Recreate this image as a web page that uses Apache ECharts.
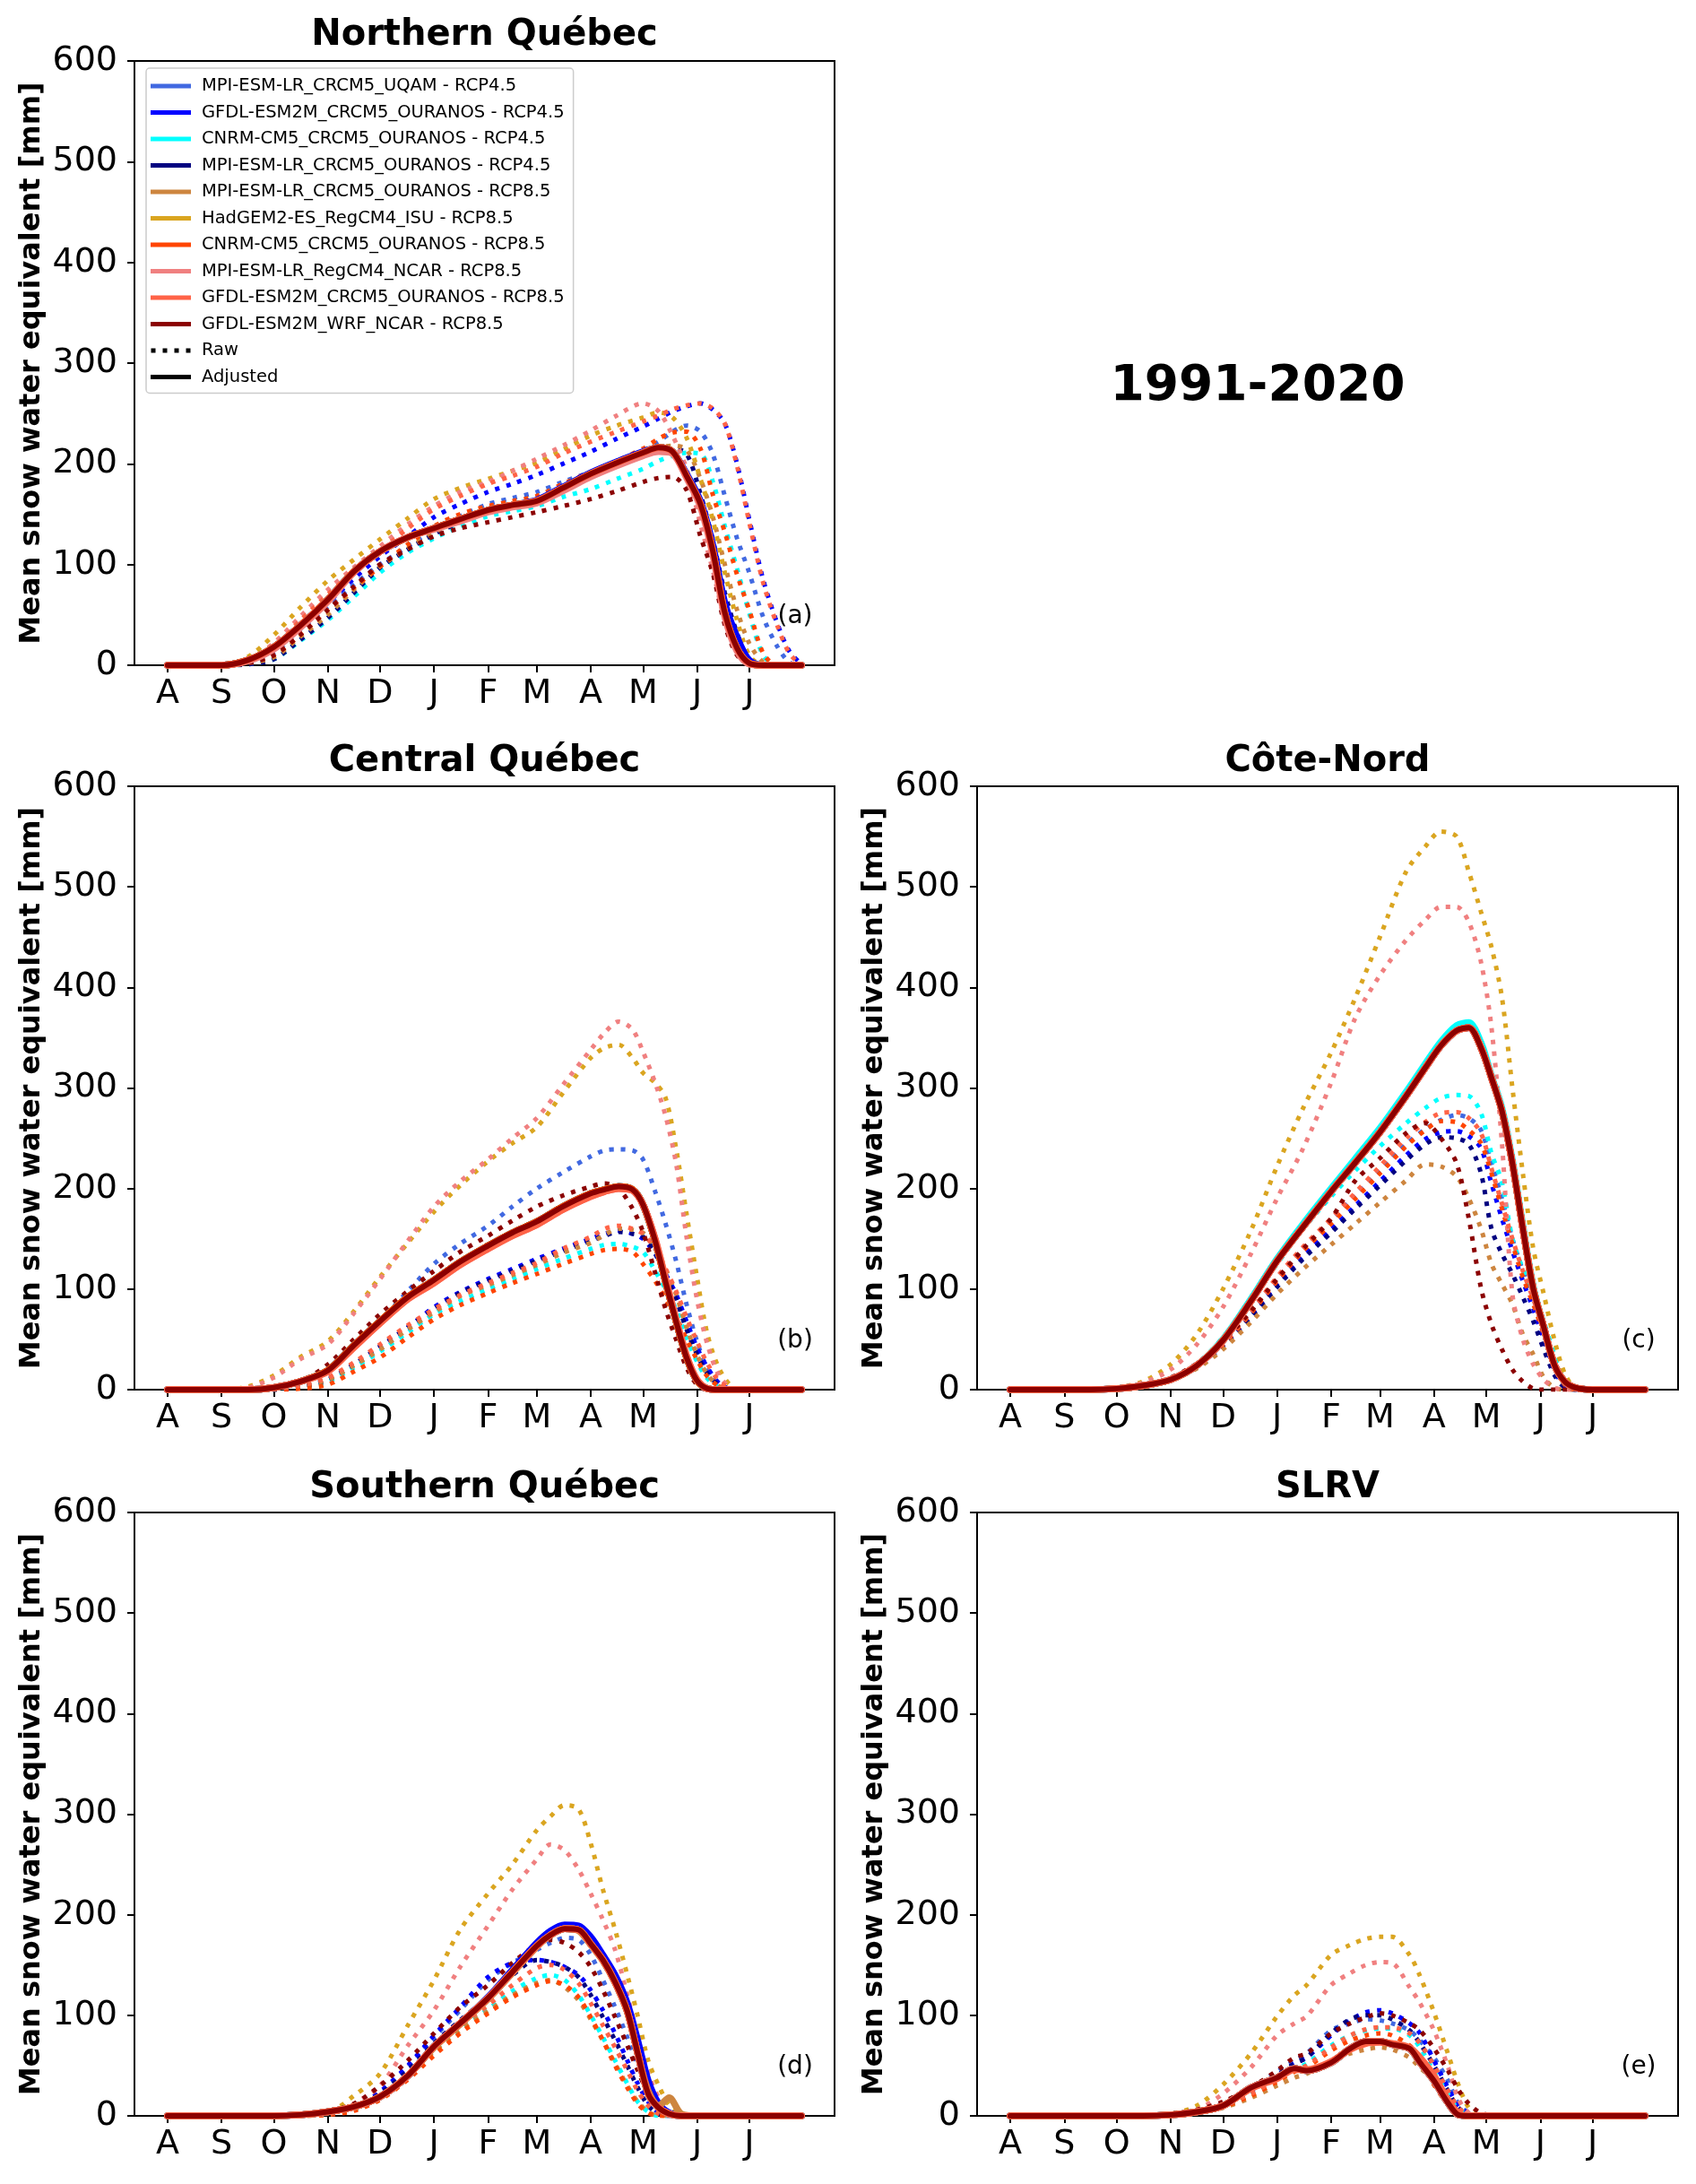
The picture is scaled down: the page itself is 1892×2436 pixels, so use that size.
<!DOCTYPE html>
<html><head><meta charset="utf-8">
<script src="https://cdn.jsdelivr.net/npm/echarts@6/dist/echarts.min.js"></script>
<style>html,body{margin:0;padding:0;background:#fff}#c{width:1892px;height:2436px}</style>
</head><body><div id="c"></div>
<script>
const MODELS = ['MPI-ESM-LR_CRCM5_UQAM - RCP4.5','GFDL-ESM2M_CRCM5_OURANOS - RCP4.5','CNRM-CM5_CRCM5_OURANOS - RCP4.5','MPI-ESM-LR_CRCM5_OURANOS - RCP4.5','MPI-ESM-LR_CRCM5_OURANOS - RCP8.5','HadGEM2-ES_RegCM4_ISU - RCP8.5','CNRM-CM5_CRCM5_OURANOS - RCP8.5','MPI-ESM-LR_RegCM4_NCAR - RCP8.5','GFDL-ESM2M_CRCM5_OURANOS - RCP8.5','GFDL-ESM2M_WRF_NCAR - RCP8.5'];
const COLORS = ['#4169e1','#0000ff','#00ffff','#000080','#cd853f','#daa520','#ff4500','#f08080','#ff6347','#8b0000'];
const MONTH_DAYS = [0,31,61,92,122,153,184,212,243,273,304,334];
const MONTH_LABELS = ['A','S','O','N','D','J','F','M','A','M','J','J'];
const PANEL_TITLES = ['Northern Québec','Central Québec','Côte-Nord','Southern Québec','SLRV'];
const PANEL_TAGS = ['(a)','(b)','(c)','(d)','(e)'];
const PERIOD = '1991-2020';
const Y_NAME = 'Mean snow water equivalent [mm]';

// ---------- Panel (a) Northern Québec ----------
const daysA = [0,31,46,61,76,92,107,122,138,153,168,184,198,212,227,243,258,273,282,290,298,306,313,320,327,334,342,350,357,364];
const rawA_royal = [0,0,3,12,35,58,80,100,118,135,148,160,166,172,182,192,202,213,222,232,238,232,210,168,126,92,48,19,3,0];
const rawA_blue = [0,0,4,15,38,62,86,108,128,147,160,172,180,189,200,212,225,237,245,252,257,260,254,240,200,145,85,42,14,1];
const rawA_cyan = [0,0,1,6,24,45,68,92,112,126,138,148,153,158,167,175,185,195,203,208,211,210,183,138,96,52,10,0,0,0];
const rawA_navy = [0,0,1,6,25,47,72,97,115,130,142,152,158,165,176,188,198,208,213,215,210,170,125,72,32,5,0,0,0,0];
const rawA_peru = [0,0,2,8,28,50,75,98,116,132,144,152,158,166,178,190,200,212,216,218,214,185,148,100,55,22,3,0,0,0];
const rawA_gold = [0,0,8,30,57,84,105,125,146,165,176,185,193,201,214,228,238,246,251,246,226,185,145,92,45,10,0,0,0,0];
const rawA_orangered = [0,0,3,10,30,55,77,98,120,138,150,158,163,168,180,192,203,215,225,231,232,215,170,132,90,55,12,0,0,0];
const rawA_lightcoral = [0,0,5,22,48,75,97,118,140,158,172,182,193,205,218,233,248,260,252,228,195,140,95,45,15,2,0,0,0,0];
const rawA_tomato = [0,0,5,18,44,70,93,113,136,155,168,180,188,197,210,222,232,242,248,254,258,260,255,240,198,142,82,40,12,0];
const rawA_darkred = [0,0,2,10,30,55,78,100,115,128,136,142,147,152,158,165,173,182,186,187,174,128,92,40,10,1,0,0,0,0];
const adjA_main = [0,0,5,18,39,65,93,113,127,136,145,154,159,163,176,190,201,211,216,212,188,160,114,52,17,2,0,0,0,0];
const adjA_blue = [0,0,5,18,39,65,93,113,127,136,145,154,159,164,177,191,202,212,216,212,190,163,120,62,28,5,0,0,0,0];
const adjA_lc = [0,0,4,16,37,63,92,113,127,135,143,152,157,161,173,187,198,208,212,210,186,157,110,48,14,1,0,0,0,0];

// ---------- Panel (b) Central Québec ----------
const daysB = [0,31,46,61,76,92,107,122,138,153,168,184,198,212,227,243,251,259,267,273,280,286,292,298,304,310,317,325,334,364];
const rawB_royal = [0,0,0,1,6,20,42,68,98,125,145,163,182,200,216,232,238,239,238,229,197,165,128,85,48,20,3,0,0,0];
const rawB_blue = [0,0,0,0,3,10,25,42,62,82,97,110,120,130,140,150,155,158,155,150,135,115,95,68,42,22,6,0,0,0];
const rawB_cyan = [0,0,0,0,2,8,22,38,57,75,88,100,110,120,130,140,144,145,142,137,118,100,80,52,28,11,2,0,0,0];
const rawB_navy = [0,0,0,0,3,10,25,43,62,80,96,108,118,128,138,148,153,157,155,152,136,113,90,60,35,16,4,0,0,0];
const rawB_peru = [0,0,0,1,4,10,24,40,60,77,93,104,114,124,136,146,154,160,159,156,142,120,95,62,35,15,3,0,0,0];
const rawB_gold = [0,0,3,14,32,48,78,112,146,177,203,227,245,261,295,330,340,343,330,315,305,290,240,175,112,55,20,2,0,0];
const rawB_orangered = [0,0,0,0,1,5,18,32,52,70,84,96,106,115,125,135,139,140,137,125,108,90,72,50,30,13,3,0,0,0];
const rawB_lightcoral = [0,0,2,12,30,45,76,110,148,182,207,229,250,270,303,338,355,366,358,336,305,272,225,152,90,45,13,1,0,0];
const rawB_tomato = [0,0,0,1,4,12,27,45,64,80,94,106,116,126,140,152,160,163,160,155,140,120,98,72,48,26,8,1,0,0];
const rawB_darkred = [0,0,0,2,8,25,50,75,98,118,137,153,168,182,193,202,205,200,180,157,116,80,50,22,5,0,0,0,0,0];
const adjB_main = [0,0,0,2,8,19,44,68,92,109,127,143,156,167,182,195,199,202,199,184,148,107,68,32,9,1,0,0,0,0];
const adjB_lc = [0,0,0,2,8,18,42,66,90,106,124,140,153,164,179,192,197,200,198,184,150,110,70,34,10,1,0,0,0,0];

// ---------- Panel (c) Côte-Nord ----------
const daysC = [0,31,46,61,76,92,107,122,138,153,168,184,198,212,227,238,247,256,263,270,276,282,288,294,300,306,312,318,324,334,364];
const rawC_royal = [0,0,0,1,3,10,24,46,77,110,140,168,193,218,244,259,268,273,270,258,225,190,150,118,88,58,28,6,0,0,0];
const rawC_blue = [0,0,0,1,3,10,23,44,74,105,133,159,183,207,233,249,256,257,252,240,205,170,138,108,80,50,20,3,0,0,0];
const rawC_cyan = [0,0,0,1,3,10,25,52,88,125,160,192,218,242,265,280,290,293,292,275,235,206,150,120,98,68,35,8,0,0,0];
const rawC_navy = [0,0,0,1,3,9,22,43,72,102,130,156,180,203,228,244,251,250,244,215,160,135,115,92,68,40,15,2,0,0,0];
const rawC_peru = [0,0,0,1,3,9,21,40,67,95,120,144,165,186,208,224,222,212,190,160,125,105,85,55,35,12,2,0,0,0,0];
const rawC_gold = [0,0,0,2,8,25,55,100,158,222,280,335,390,450,515,540,555,550,515,475,440,390,300,215,140,95,50,16,2,0,0];
const rawC_orangered = [0,0,0,1,3,10,24,45,76,108,138,165,190,215,242,258,267,266,258,245,215,180,145,112,85,55,25,5,0,0,0];
const rawC_lightcoral = [0,0,0,2,7,20,45,82,135,190,240,305,370,412,447,467,480,480,465,425,360,245,95,50,25,10,2,0,0,0,0];
const rawC_tomato = [0,0,0,1,3,10,24,46,78,112,142,170,196,222,250,266,275,276,270,255,220,185,150,118,90,60,30,8,0,0,0];
const rawC_darkred = [0,0,0,1,4,12,26,48,78,110,140,170,208,230,255,265,250,225,170,101,65,40,20,8,1,0,0,0,0,0,0];
const adjC_main = [0,0,0,1,4,10,24,49,88,128,162,197,226,256,292,320,342,357,360,340,310,277,225,160,100,62,25,8,2,0,0];
const adjC_cyan = [0,0,0,1,4,10,24,50,90,130,165,200,230,260,296,324,346,362,365,345,312,280,228,163,102,62,25,8,2,0,0];

// ---------- Panel (d) Southern Québec ----------
const daysD = [0,31,61,76,92,107,122,138,153,168,184,198,212,220,228,236,243,250,257,264,270,276,282,288,295,304,334,364];
const rawD_royal = [0,0,0,1,3,8,22,48,78,105,135,152,165,172,177,175,160,135,108,78,50,25,8,1,0,0,0,0];
const rawD_blue = [0,0,0,1,3,8,24,50,80,108,138,152,155,153,148,140,125,105,82,55,32,14,3,0,0,0,0,0];
const rawD_cyan = [0,0,0,0,2,6,18,40,65,87,106,124,137,140,135,120,100,78,55,32,14,4,0,0,0,0,0,0];
const rawD_navy = [0,0,0,1,3,8,22,45,72,95,118,140,155,153,148,138,120,98,75,50,28,10,2,0,0,0,0,0];
const rawD_peru = [0,0,0,0,2,6,18,40,64,85,104,120,132,135,128,115,96,75,52,30,14,4,0,0,0,0,0,0];
const rawD_gold = [0,0,0,1,3,20,42,90,135,185,221,250,284,298,309,305,271,225,185,140,99,55,30,11,1,0,0,0];
const rawD_orangered = [0,0,0,0,1,5,16,36,60,82,102,118,130,134,130,118,98,75,50,28,12,3,0,0,0,0,0,0];
const rawD_lightcoral = [0,0,0,1,2,12,30,70,105,148,189,225,255,270,264,245,221,195,165,120,78,42,18,4,0,0,0,0];
const rawD_tomato = [0,0,0,1,3,8,20,42,68,90,110,130,147,150,145,132,112,90,68,45,25,10,2,0,0,0,0,0];
const rawD_darkred = [0,0,0,2,5,12,30,55,82,108,130,152,170,175,172,163,148,125,98,70,45,22,7,1,0,0,0,0];
const adjD_main = [0,0,0,1,4,9,19,40,69,92,117,143,169,180,186,185,171,155,133,104,62,22,8,2,0,0,0,0];
const adjD_blue = [0,0,0,1,4,9,19,40,69,92,118,145,172,184,190,189,178,160,140,112,75,35,12,3,0,0,0,0];
const adjD_peru = [0,0,0,1,4,9,19,40,68,91,116,142,168,180,186,184,170,154,132,103,62,25,10,18,2,0,0,0];

// ---------- Panel (e) SLRV ----------
const daysE = [0,31,61,76,92,107,122,138,153,163,170,184,195,204,212,219,229,235,243,251,257,263,270,280,304,334,364];
const rawE_royal = [0,0,0,0,1,4,12,27,44,55,62,85,92,96,95,92,85,75,58,35,12,3,0,0,0,0,0];
const rawE_blue = [0,0,0,0,1,4,12,25,40,52,58,80,95,103,105,102,92,82,55,28,10,3,0,0,0,0,0];
const rawE_cyan = [0,0,0,0,1,3,9,22,36,46,52,70,80,85,87,87,80,68,44,22,6,1,0,0,0,0,0];
const rawE_navy = [0,0,0,0,1,3,10,24,40,52,58,82,96,100,100,96,85,72,50,25,8,2,0,0,0,0,0];
const rawE_peru = [0,0,0,0,1,3,8,18,30,38,42,55,62,66,68,66,58,48,35,15,4,0,0,0,0,0,0];
const rawE_gold = [0,0,0,0,2,10,31,62,99,120,130,160,170,176,178,178,160,139,103,62,31,8,0,0,0,0,0];
const rawE_orangered = [0,0,0,0,1,3,9,20,34,44,48,65,75,80,82,80,70,58,31,12,3,0,0,0,0,0,0];
const rawE_lightcoral = [0,0,0,0,1,6,22,48,80,92,99,130,142,150,153,152,128,112,85,49,17,3,0,0,0,0,0];
const rawE_tomato = [0,0,0,0,1,3,10,22,36,46,50,68,80,86,88,88,82,72,50,25,8,1,0,0,0,0,0];
const rawE_darkred = [0,0,0,0,2,6,14,28,45,58,62,82,92,98,102,100,92,85,67,45,26,12,3,0,0,0,0];
const adjE_main = [0,0,0,0,1,4,10,28,38,47,45,53,67,74,74,71,67,53,35,13,1,0,0,0,0,0,0];
const adjE_tomato = [0,0,0,0,1,4,10,27,37,46,46,54,66,72,73,72,68,58,40,16,3,0,0,0,0,0,0];

const PANELS = [
  { days: daysA,
    raw: [rawA_royal, rawA_blue, rawA_cyan, rawA_navy, rawA_peru, rawA_gold, rawA_orangered, rawA_lightcoral, rawA_tomato, rawA_darkred],
    adj: [adjA_main, adjA_blue, adjA_main, adjA_main, adjA_main, adjA_main, adjA_main, adjA_lc, adjA_main, adjA_main] },
  { days: daysB,
    raw: [rawB_royal, rawB_blue, rawB_cyan, rawB_navy, rawB_peru, rawB_gold, rawB_orangered, rawB_lightcoral, rawB_tomato, rawB_darkred],
    adj: [adjB_main, adjB_main, adjB_main, adjB_main, adjB_main, adjB_main, adjB_main, adjB_lc, adjB_lc, adjB_main] },
  { days: daysC,
    raw: [rawC_royal, rawC_blue, rawC_cyan, rawC_navy, rawC_peru, rawC_gold, rawC_orangered, rawC_lightcoral, rawC_tomato, rawC_darkred],
    adj: [adjC_main, adjC_main, adjC_cyan, adjC_main, adjC_main, adjC_main, adjC_main, adjC_main, adjC_main, adjC_main] },
  { days: daysD,
    raw: [rawD_royal, rawD_blue, rawD_cyan, rawD_navy, rawD_peru, rawD_gold, rawD_orangered, rawD_lightcoral, rawD_tomato, rawD_darkred],
    adj: [adjD_main, adjD_blue, adjD_main, adjD_main, adjD_peru, adjD_main, adjD_main, adjD_main, adjD_main, adjD_main] },
  { days: daysE,
    raw: [rawE_royal, rawE_blue, rawE_cyan, rawE_navy, rawE_peru, rawE_gold, rawE_orangered, rawE_lightcoral, rawE_tomato, rawE_darkred],
    adj: [adjE_main, adjE_main, adjE_main, adjE_main, adjE_main, adjE_main, adjE_main, adjE_main, adjE_tomato, adjE_main] }
];

// ---------- layout ----------
const FONT = 'DejaVu Sans';
const GRIDS = [
  { left: 150, top: 68, width: 781, height: 674 },
  { left: 150, top: 877, width: 781, height: 673 },
  { left: 1090, top: 877, width: 782, height: 673 },
  { left: 150, top: 1687, width: 781, height: 673 },
  { left: 1090, top: 1687, width: 782, height: 673 }
];
const TITLE_Y = [40, 850, 850, 1660, 1660];

const grid = GRIDS.map(g => Object.assign({ show: true, borderColor: '#000', borderWidth: 2, backgroundColor: 'transparent', containLabel: false }, g));

const xAxis = GRIDS.map((g, i) => ({
  type: 'value', gridIndex: i, min: -19, max: 383,
  axisLine: { show: true, onZero: false, lineStyle: { color: '#000', width: 2 } },
  axisTick: { show: true, customValues: MONTH_DAYS, length: 8, inside: false, lineStyle: { color: '#000', width: 2 } },
  axisLabel: { show: true, customValues: MONTH_DAYS, margin: 13, color: '#000', fontSize: 38, fontFamily: FONT,
    formatter: v => { const k = MONTH_DAYS.indexOf(Math.round(v)); return k >= 0 ? MONTH_LABELS[k] : ''; } },
  splitLine: { show: false }
}));
const yAxis = GRIDS.map((g, i) => ({
  type: 'value', gridIndex: i, min: 0, max: 600, interval: 100,
  axisLine: { show: true, onZero: false, lineStyle: { color: '#000', width: 2 } },
  axisTick: { show: true, length: 8, lineStyle: { color: '#000', width: 2 } },
  axisLabel: { show: true, margin: 19, color: '#000', fontSize: 38, fontFamily: FONT },
  splitLine: { show: false }
}));

const series = [];
function mk(pi, mi, vals, kind) {
  const days = PANELS[pi].days;
  const data = days.map((d, k) => [d, vals[k]]);
  const isDark = mi === 9;
  const ls = kind === 'raw'
    ? { color: COLORS[mi], width: 5, type: [5, 8], cap: 'butt' }
    : { color: COLORS[mi], width: isDark ? 6 : 7.5, type: 'solid', cap: 'round', join: 'round' };
  return {
    type: 'line', name: MODELS[mi], xAxisIndex: pi, yAxisIndex: pi, data: data,
    showSymbol: false, symbol: 'none', smooth: 0.3,
    color: COLORS[mi], itemStyle: { color: COLORS[mi] },
    lineStyle: ls, silent: true, animation: false, clip: true
  };
}
PANELS.forEach((p, pi) => p.raw.forEach((v, mi) => series.push(mk(pi, mi, v, 'raw'))));
PANELS.forEach((p, pi) => p.adj.forEach((v, mi) => series.push(mk(pi, mi, v, 'adj'))));
series.push({ type: 'line', name: 'Raw', xAxisIndex: 0, yAxisIndex: 0, data: [], color: '#000', symbol: 'none' });
series.push({ type: 'line', name: 'Adjusted', xAxisIndex: 0, yAxisIndex: 0, data: [], color: '#000', symbol: 'none' });

const DOT_ICON = 'path://M0,0h5v5h-5zM13,0h5v5h-5zM26,0h5v5h-5zM39,0h5v5h-5z';
const legendData = MODELS.map((n, i) => ({ name: n, icon: 'rect', itemStyle: { color: COLORS[i], borderWidth: 0 } }))
  .concat([{ name: 'Raw', icon: DOT_ICON, itemStyle: { color: '#000', borderWidth: 0 } },
           { name: 'Adjusted', icon: 'rect', itemStyle: { color: '#000', borderWidth: 0 } }]);

const graphic = [];
GRIDS.forEach((g, i) => {
  graphic.push({ type: 'text', x: g.left + g.width / 2, y: TITLE_Y[i], z: 100,
    style: { text: PANEL_TITLES[i], fill: '#000', fontSize: 40, fontWeight: 'bold', fontFamily: FONT, textAlign: 'center', textVerticalAlign: 'middle' } });
  graphic.push({ type: 'text', x: g.left - 114, y: g.top + g.height / 2, rotation: Math.PI / 2, z: 100,
    style: { text: Y_NAME, fill: '#000', fontSize: 32, fontWeight: 'bold', fontFamily: FONT, textAlign: 'center', textVerticalAlign: 'middle' } });
  graphic.push({ type: 'text', x: g.left + g.width - 44, y: g.top + g.height - 54, z: 100,
    style: { text: PANEL_TAGS[i], fill: '#000', fontSize: 28, fontFamily: FONT, textAlign: 'center', textVerticalAlign: 'middle' } });
});
graphic.push({ type: 'text', x: 1403, y: 432, z: 100,
  style: { text: PERIOD, fill: '#000', fontSize: 55, fontWeight: 'bold', fontFamily: FONT, textAlign: 'center', textVerticalAlign: 'middle' } });

const chart = echarts.init(document.getElementById('c'), null, { renderer: 'canvas', width: 1892, height: 2436 });
chart.setOption({
  backgroundColor: '#fff',
  animation: false,
  textStyle: { fontFamily: FONT },
  grid: grid, xAxis: xAxis, yAxis: yAxis, series: series,
  legend: {
    show: true, left: 163, top: 76, orient: 'vertical', selectedMode: false,
    padding: [10, 10, 8, 5], backgroundColor: '#fff', borderColor: '#cccccc', borderWidth: 1.5, borderRadius: 4,
    itemWidth: 45, itemHeight: 5, itemGap: 9.5,
    itemStyle: { borderWidth: 0 },
    textStyle: { fontSize: 19.5, fontFamily: FONT, color: '#000', lineHeight: 20, padding: [0, 0, 0, 7] },
    data: legendData
  },
  graphic: graphic
});
</script></body></html>
